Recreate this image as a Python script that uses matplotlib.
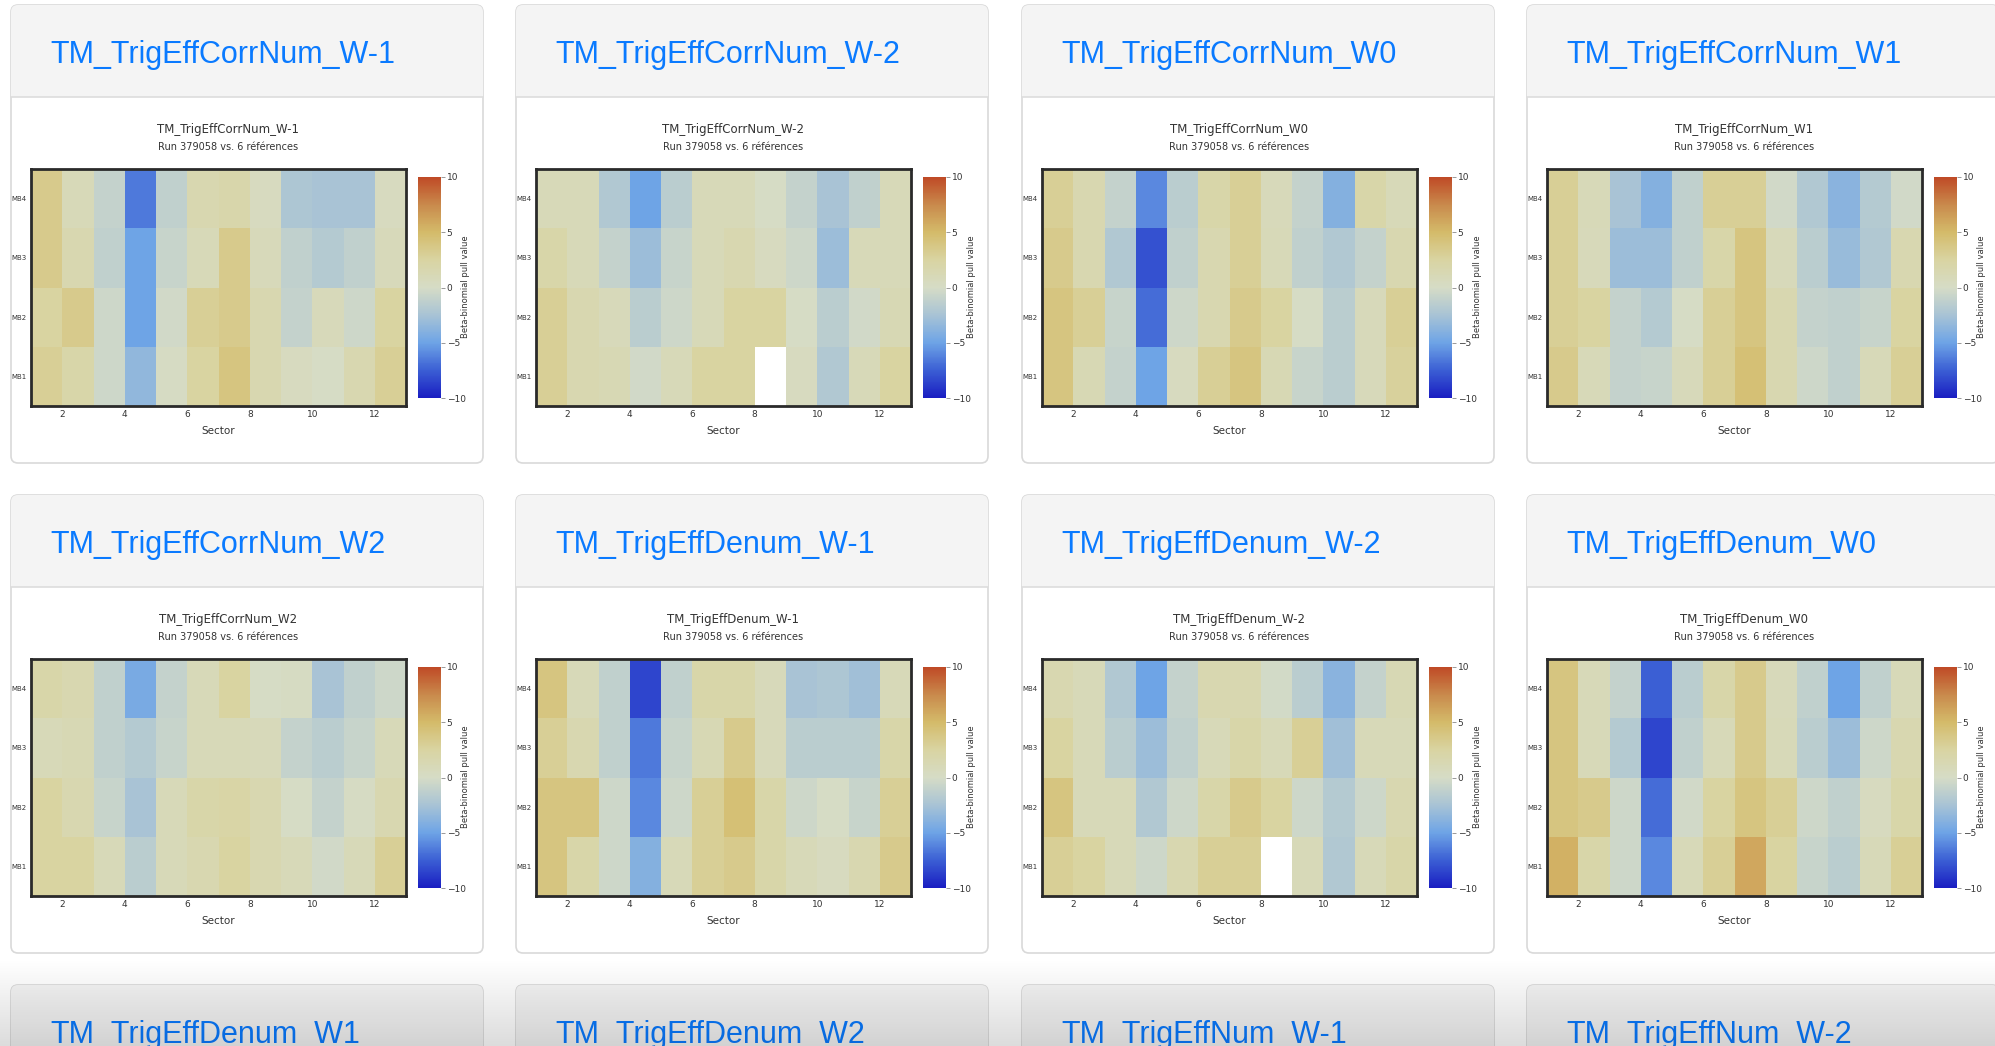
import numpy as np
import matplotlib
matplotlib.use("Agg")
import matplotlib.pyplot as plt
from matplotlib.colors import LinearSegmentedColormap
from matplotlib.patches import FancyBboxPatch, Rectangle

nan = np.nan

# pull values per chamber row (MB1 .. MB4), sectors 1..12
corrnum_wm1 = [
    [3.0, 2.0, -0.5, -3.5, 0.2, 2.5, 4.0, 1.5, 0.5, 0.0, 1.5, 3.0],
    [2.5, 3.5, -0.5, -5.0, -0.3, 3.0, 3.5, 1.5, -1.0, 0.8, -0.5, 2.5],
    [3.5, 1.5, -1.2, -5.0, -0.8, 1.0, 3.5, 0.8, -1.2, -1.8, -1.2, 0.8],
    [3.5, 1.0, -1.0, -6.5, -1.2, 1.5, 1.8, 0.5, -2.2, -2.5, -2.5, 0.5],
]
corrnum_wm2 = [
    [3.0, 1.5, 1.2, -0.3, 1.0, 2.5, 2.5, nan, 0.5, -2.0, 1.0, 2.5],
    [3.0, 1.5, 0.8, -1.5, -0.5, 1.0, 2.5, 2.5, 0.0, -1.5, -0.3, 1.2],
    [2.0, 1.0, -1.0, -3.0, -0.8, 1.0, 1.5, 0.5, -0.5, -3.0, 1.0, 1.0],
    [1.0, 1.0, -2.0, -5.0, -1.5, 1.0, 1.0, 0.0, -1.0, -2.5, -1.2, 1.0],
]
corrnum_w0 = [
    [4.0, 1.2, -1.0, -5.0, 0.5, 3.0, 4.0, 1.2, -0.8, -1.5, 0.8, 2.8],
    [4.0, 3.0, -0.8, -7.0, -0.5, 1.5, 3.5, 2.5, 0.0, -1.5, 0.8, 3.0],
    [3.5, 1.5, -2.0, -8.0, -1.2, 1.5, 3.0, 1.0, -1.2, -2.0, -1.0, 1.5],
    [3.0, 1.5, -1.0, -6.0, -1.5, 2.0, 3.0, 0.8, -1.0, -4.0, 2.0, 1.0],
]
corrnum_w1 = [
    [3.5, 1.0, -1.0, -0.8, 0.8, 3.0, 4.5, 1.5, -0.5, -1.2, 1.0, 3.0],
    [3.0, 2.5, -1.0, -1.8, 0.0, 3.0, 4.0, 1.5, -1.0, -1.2, -0.8, 2.5],
    [3.0, 0.8, -3.0, -3.0, -1.2, 2.0, 4.0, 0.8, -1.5, -3.2, -2.0, 1.5],
    [3.0, 1.0, -2.5, -4.0, -1.2, 3.0, 3.0, -0.3, -2.0, -3.8, -1.8, -0.3],
]
corrnum_w2 = [
    [2.5, 2.5, 1.0, -1.5, 1.0, 1.5, 2.5, 1.5, 1.0, -0.3, 1.0, 3.0],
    [2.5, 1.5, -0.8, -2.5, 1.0, 2.0, 2.2, 1.5, 0.0, -1.0, 0.2, 1.5],
    [1.0, 1.2, -1.2, -1.8, -0.8, 1.0, 1.0, 0.8, -1.0, -1.5, -0.8, 1.0],
    [2.0, 1.5, -1.2, -4.5, -1.0, 1.0, 2.5, 0.0, 0.3, -2.5, -1.2, -0.5],
]
denum_wm1 = [
    [4.0, 2.0, -0.5, -4.0, 1.0, 3.0, 3.5, 2.0, 1.0, 0.5, 1.5, 3.5],
    [4.0, 4.0, -0.5, -6.0, -0.5, 3.0, 4.5, 2.0, -0.5, 0.0, -0.8, 3.0],
    [3.0, 1.5, -1.2, -6.5, -0.8, 1.2, 3.5, 0.8, -1.5, -1.5, -1.5, 2.0],
    [4.0, 1.0, -1.2, -8.5, -1.2, 2.0, 2.0, 0.8, -2.5, -2.2, -2.8, 1.0],
]
denum_wm2 = [
    [3.0, 2.5, 1.0, -0.5, 1.5, 3.0, 3.0, nan, 1.0, -2.0, 1.0, 2.0],
    [4.0, 1.0, 1.0, -2.0, -0.5, 2.0, 3.5, 2.5, -0.5, -1.8, -0.5, 1.5],
    [2.5, 1.0, -1.5, -3.0, -1.2, 1.0, 2.0, 1.0, 3.0, -2.8, 1.0, 1.0],
    [1.5, 1.0, -2.0, -5.0, -1.0, 1.5, 1.5, -0.2, -1.5, -3.8, -1.0, 1.2],
]
denum_w0 = [
    [5.5, 2.0, -0.5, -6.0, 1.0, 3.0, 6.0, 2.5, -0.8, -1.5, 1.0, 3.0],
    [4.0, 3.5, -0.5, -7.0, -0.3, 2.5, 4.0, 3.0, -0.5, -1.2, 0.5, 2.0],
    [4.0, 1.0, -1.8, -8.5, -1.2, 1.0, 3.5, 1.0, -1.5, -3.0, -0.5, 1.5],
    [4.0, 1.0, -1.0, -7.5, -1.5, 2.0, 3.5, 0.8, -1.2, -5.0, -1.2, 1.0],
]

plot_names = ["TM_TrigEffCorrNum_W-1", "TM_TrigEffCorrNum_W-2", "TM_TrigEffCorrNum_W0",
              "TM_TrigEffCorrNum_W1", "TM_TrigEffCorrNum_W2", "TM_TrigEffDenum_W-1",
              "TM_TrigEffDenum_W-2", "TM_TrigEffDenum_W0"]
plot_values = [corrnum_wm1, corrnum_wm2, corrnum_w0, corrnum_w1,
               corrnum_w2, denum_wm1, denum_wm2, denum_w0]
next_names = ["TM_TrigEffDenum_W1", "TM_TrigEffDenum_W2", "TM_TrigEffNum_W-1", "TM_TrigEffNum_W-2"]
stations = ["MB1", "MB2", "MB3", "MB4"]
sector_ticks = [2, 4, 6, 8, 10, 12]
cbar_ticks = [-10, -5, 0, 5, 10]
subtitle = "Run 379058 vs. 6 références"

W, H = 1995, 1046
fig = plt.figure(figsize=(W / 100, H / 100), dpi=100)
fig.patch.set_facecolor("white")

bg = fig.add_axes([0, 0, 1, 1])
bg.set_axis_off()

def frac(x, y, w, h):
    return [x / W, 1 - (y + h) / H, w / W, h / H]

pull_cmap = LinearSegmentedColormap.from_list("pull", [
    (0.0, "#1a1ec2"), (0.125, "#3b5fd4"), (0.25, "#6ea4e6"), (0.375, "#a8c3d5"),
    (0.5, "#d6dcc6"), (0.625, "#d9d4a2"), (0.75, "#d4bb6a"), (0.875, "#c98a4c"),
    (1.0, "#bf4a26")])

card_x = [11, 516, 1022, 1527]
card_y = [5, 495, 985]
card_w, card_h, head_h = 472, 458, 92
link_blue = "#0a7aff"
txt = "#333333"

def draw_card(x0, y0, title):
    card = FancyBboxPatch((x0, y0), card_w, card_h, boxstyle="round,pad=0,rounding_size=7",
                          facecolor="white", edgecolor="#d9d9d9", lw=1.2, zorder=1)
    bg.add_patch(card)
    head = Rectangle((x0, y0), card_w, head_h, facecolor="#f4f4f4", edgecolor="none", zorder=1.5)
    bg.add_patch(head)
    head.set_clip_path(card)
    bg.plot([x0, x0 + card_w], [y0 + head_h, y0 + head_h], color="#dddddd", lw=1.2, zorder=2)
    bg.text(x0 + 39, y0 + 50, title, color=link_blue, fontsize=22,
            family="Liberation Sans", va="center", ha="left", zorder=3)

xe = np.arange(1, 14)
ye = np.arange(0, 5)

for i, (name, vals) in enumerate(zip(plot_names, plot_values)):
    x0 = card_x[i % 4]
    y0 = card_y[i // 4]
    draw_card(x0, y0, name)

    bg.text(x0 + 217, y0 + 125, name, fontsize=8.5, color=txt, ha="center", va="center", zorder=3)
    bg.text(x0 + 217, y0 + 142, subtitle, fontsize=7, color=txt, ha="center", va="center", zorder=3)

    ax = fig.add_axes(frac(x0 + 20, y0 + 164, 375, 237))
    z = np.ma.masked_invalid(np.array(vals))
    mesh = ax.pcolormesh(xe, ye, z, cmap=pull_cmap, vmin=-10, vmax=10)
    ax.set_xlim(1, 13)
    ax.set_ylim(0, 4)
    ax.set_facecolor("white")
    for s in ax.spines.values():
        s.set_linewidth(2)
        s.set_color("#2a2a2a")
    ax.set_xticks(sector_ticks)
    ax.set_xticklabels([str(t) for t in sector_ticks], fontsize=6.5, color=txt)
    ax.set_yticks(np.arange(4) + 0.5)
    ax.set_yticklabels(stations, fontsize=5, color=txt)
    ax.tick_params(length=0, pad=3)
    ax.set_xlabel("Sector", fontsize=7.5, color=txt, labelpad=5)

    cax = fig.add_axes(frac(x0 + 407, y0 + 172, 23, 221))
    cb = fig.colorbar(mesh, cax=cax)
    cb.outline.set_visible(False)
    cb.set_ticks(cbar_ticks)
    cb.ax.set_yticklabels(["\u221210", "\u22125", "0", "5", "10"], fontsize=6.5, color=txt)
    cb.ax.tick_params(length=3, width=0.6, color="#888888", pad=1)
    bg.text(x0 + 455, y0 + 282, "Beta-binomial pull value", rotation=90, fontsize=6,
            color=txt, ha="center", va="center", zorder=3)

# next row of cards, cut off by the window edge
for j, name in enumerate(next_names):
    draw_card(card_x[j], card_y[2], name)

# scroll fade at the bottom of the page
grad = np.zeros((100, 1, 4))
grad[:, 0, 3] = np.linspace(0, 0.14, 100)
bg.imshow(grad, extent=(0, W, H, 958), aspect="auto", zorder=5, interpolation="bilinear")

bg.set_xlim(0, W)
bg.set_ylim(H, 0)

fig.savefig("out.png", dpi=100)
